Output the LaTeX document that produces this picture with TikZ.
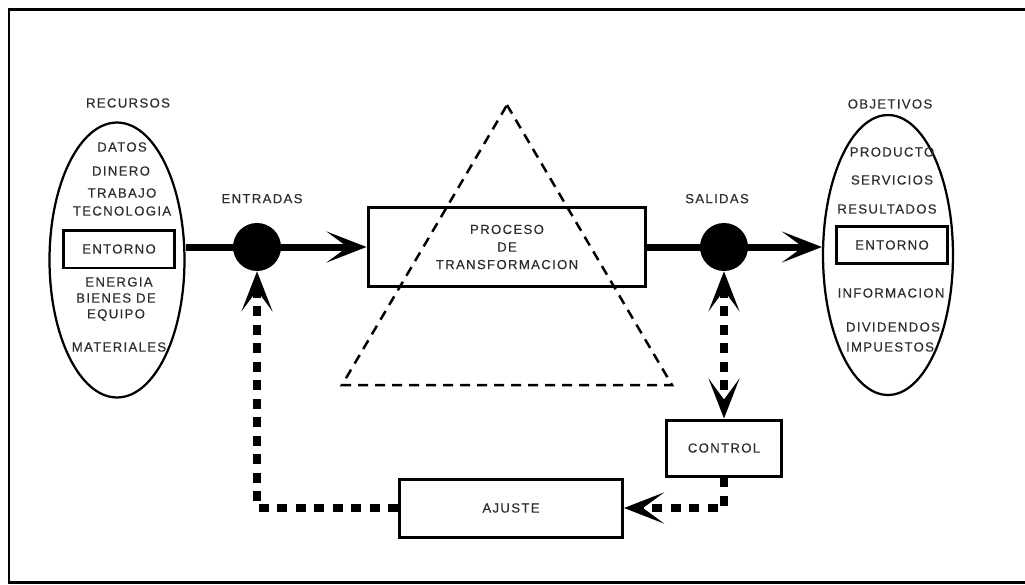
\documentclass[tikz,border=0pt]{standalone}
\usepackage{fontspec}
\setmainfont{Liberation Sans}[LetterSpace=10, FakeBold=0.3]
\usepackage{tikz}
\usetikzlibrary{shapes.geometric, arrows.meta, positioning}
\definecolor{textgray}{RGB}{45,45,45}
\tikzset{
  lbl/.style={font=\fontsize{7.5}{9}\selectfont, text=textgray, inner sep=0pt},
  box/.style={
    draw, rectangle, line width=0.06cm,
    font=\fontsize{7.5}{9}\selectfont, text=textgray, align=center
  },
  oval/.style={draw, ellipse, line width=0.045cm},
  dot/.style={circle, fill=black, minimum size=0.96cm, inner sep=0pt},
  tip/.tip={Stealth[length=0.8cm, width=0.62cm, inset=0.42cm]},
  main/.style={-tip, line width=0.14cm},
  fb/.style={line width=0.17cm, dash pattern=on 0.2cm off 0.17cm},
  tri/.style={line width=0.05cm, dash pattern=on 0.2cm off 0.14cm}
}

\begin{document}
\begin{tikzpicture}[x=0.02cm, y=-0.02cm]
  \useasboundingbox (0,0) rectangle (1025,585);
  \draw[line width=0.06cm] (9,9) rectangle (1040,582);

  % Recursos
  \node[oval, minimum width=2.7cm, minimum height=5.5cm] (rec) at (117,260) {};
  \node[lbl] (reclbl) at (128,103) {RECURSOS};
  \node[lbl] (datos)  at (122,147) {DATOS};
  \node[lbl] (dinero) at (121,171) {DINERO};
  \node[lbl] (trab)   at (122,193) {TRABAJO};
  \node[lbl] (tecno)  at (122,211) {TECNOLOGIA};
  \node[box, minimum width=2.24cm, minimum height=0.76cm] (entin) at (119,249) {ENTORNO};
  \node[lbl] (energ)  at (119,282) {ENERGIA};
  \node[lbl] (bienes) at (116,298) {BIENES DE};
  \node[lbl] (equipo) at (116,315) {EQUIPO};
  \node[lbl] (mater)  at (119,347) {MATERIALES};

  % Objetivos
  \node[oval, minimum width=2.6cm, minimum height=5.6cm] (obj) at (888,255) {};
  \node[lbl] (objlbl) at (890,104) {OBJETIVOS};
  \node[lbl] (prod)   at (892,152) {PRODUCTO};
  \node[lbl] (serv)   at (892,180) {SERVICIOS};
  \node[lbl] (result) at (887,209) {RESULTADOS};
  \node[box, minimum width=2.22cm, minimum height=0.74cm] (entout) at (892,245) {ENTORNO};
  \node[lbl] (info)   at (891,293) {INFORMACION};
  \node[lbl] (divid)  at (893,327) {DIVIDENDOS};
  \node[lbl] (impu)   at (890,347) {IMPUESTOS};

  % Proceso
  \draw[tri] (507,105) -- (672,385) -- (342,385) -- cycle;
  \node[box, minimum width=5.56cm, minimum height=1.6cm] (proc) at (507,247)
    {PROCESO\\[1pt]DE\\[1pt]TRANSFORMACION};

  % Entradas / salidas
  \node[dot] (ent) at (257,247) {};
  \node[dot] (sal) at (724,247) {};
  \node[lbl, above=0.38cm of ent, xshift=0.1cm] (entlbl) {ENTRADAS};
  \node[lbl, above=0.38cm of sal, xshift=-0.14cm] (sallbl) {SALIDAS};

  % Control / ajuste
  \node[box, minimum width=2.32cm, minimum height=1.12cm] (ctrl) at (724,448) {CONTROL};
  \node[box, minimum width=4.46cm, minimum height=1.16cm] (ajuste) at (511,508) {AJUSTE};

  % Flujo principal
  \draw[main] (rec.east |- ent) -- (proc.west);
  \draw[main] (proc.east) -- (obj.west |- sal);

  % Realimentacion
  \draw[fb, tip-tip] (sal.south) -- (ctrl.north);
  \draw[fb, -tip] (ctrl.south) -- (ctrl.south |- ajuste) -- (ajuste.east);
  \draw[fb, -tip] (ajuste.west) -- (ent.south |- ajuste) -- (ent.south);
\end{tikzpicture}
\end{document}
